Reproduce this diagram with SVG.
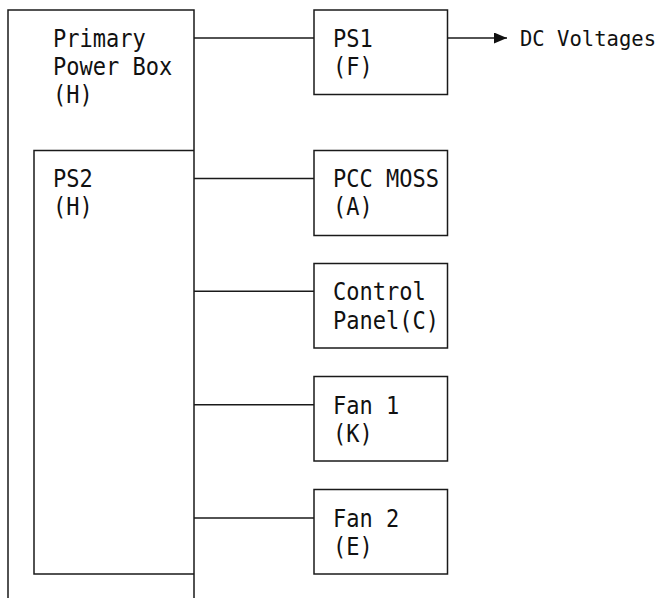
<svg xmlns="http://www.w3.org/2000/svg" width="670" height="598" viewBox="0 0 670 598">
<defs>
<style>
.ln{fill:none;stroke:#1a1a1a;stroke-width:1.5}
.bx{fill:none;stroke:#1a1a1a;stroke-width:1.5}
.t{font-family:"DejaVu Sans Mono","Liberation Mono",monospace;font-size:24px;fill:#111}
.s{font-size:22px}
</style>
<marker id="ah" markerWidth="13" markerHeight="11" refX="13" refY="5.5" orient="auto" markerUnits="userSpaceOnUse">
<path d="M0,0 L13,5.5 L0,11 Z" fill="#111"/>
</marker>
</defs>
<rect width="670" height="598" fill="#fff"/>
<g id="primary">
<path class="bx" d="M8,598 V10 H194 V598"/>
<text class="t" x="53" y="46.5" textLength="92.75" lengthAdjust="spacingAndGlyphs">Primary</text>
<text class="t" x="53" y="75" textLength="119.25" lengthAdjust="spacingAndGlyphs">Power Box</text>
<text class="t" x="53" y="103" textLength="39.75" lengthAdjust="spacingAndGlyphs">(H)</text>
</g>
<g id="ps2">
<path class="bx" d="M194,150.5 H34 V574 H194"/>
<text class="t" x="53" y="187" textLength="39.75" lengthAdjust="spacingAndGlyphs">PS2</text>
<text class="t" x="53" y="215" textLength="39.75" lengthAdjust="spacingAndGlyphs">(H)</text>
</g>
<g id="ps1">
<rect class="bx" x="314" y="10" width="133.5" height="84.5"/>
<text class="t" x="333" y="46.5" textLength="39.75" lengthAdjust="spacingAndGlyphs">PS1</text>
<text class="t" x="333" y="75" textLength="39.75" lengthAdjust="spacingAndGlyphs">(F)</text>
</g>
<g id="pccmoss">
<rect class="bx" x="314" y="150.5" width="133.5" height="85"/>
<text class="t" x="333" y="187" textLength="106" lengthAdjust="spacingAndGlyphs">PCC MOSS</text>
<text class="t" x="333" y="215" textLength="39.75" lengthAdjust="spacingAndGlyphs">(A)</text>
</g>
<g id="controlpanel">
<rect class="bx" x="314" y="263.5" width="133.5" height="84.5"/>
<text class="t" x="333" y="300" textLength="92.75" lengthAdjust="spacingAndGlyphs">Control</text>
<text class="t" x="333" y="328.5" textLength="106" lengthAdjust="spacingAndGlyphs">Panel(C)</text>
</g>
<g id="fan1">
<rect class="bx" x="314" y="376.5" width="133.5" height="84.5"/>
<text class="t" x="333" y="413.5" textLength="66.25" lengthAdjust="spacingAndGlyphs">Fan 1</text>
<text class="t" x="333" y="441.5" textLength="39.75" lengthAdjust="spacingAndGlyphs">(K)</text>
</g>
<g id="fan2">
<rect class="bx" x="314" y="489.5" width="133.5" height="84.5"/>
<text class="t" x="333" y="526.5" textLength="66.25" lengthAdjust="spacingAndGlyphs">Fan 2</text>
<text class="t" x="333" y="555" textLength="39.75" lengthAdjust="spacingAndGlyphs">(E)</text>
</g>
<g id="dcvoltages">
<text class="t s" x="520" y="46" textLength="136" lengthAdjust="spacingAndGlyphs">DC Voltages</text>
</g>
<g id="connectors">
<line class="ln" x1="194" y1="38" x2="314" y2="38"/>
<line class="ln" x1="194" y1="178.5" x2="314" y2="178.5"/>
<line class="ln" x1="194" y1="291.3" x2="314" y2="291.3"/>
<line class="ln" x1="194" y1="404.8" x2="314" y2="404.8"/>
<line class="ln" x1="194" y1="518" x2="314" y2="518"/>
<line class="ln" x1="447.5" y1="38" x2="507" y2="38" marker-end="url(#ah)"/>
</g>
</svg>
